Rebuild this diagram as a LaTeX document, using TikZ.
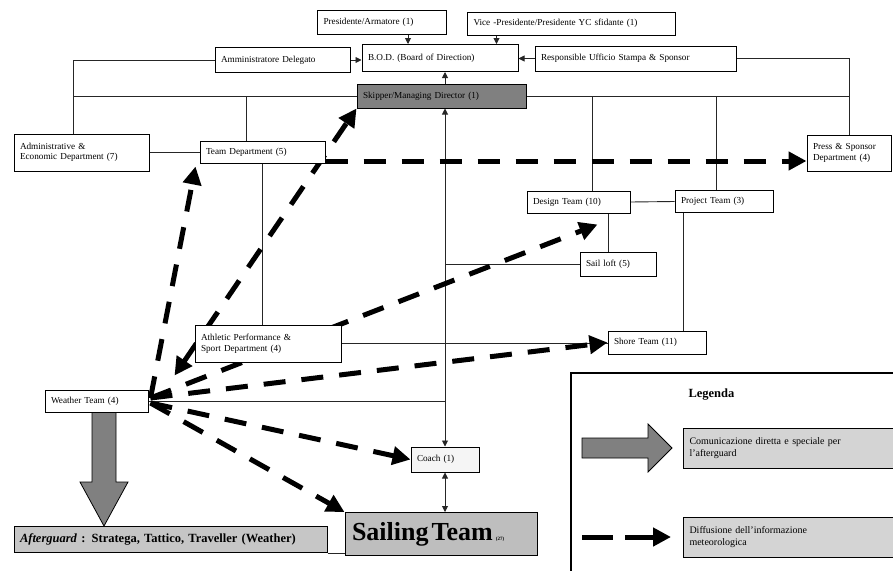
\documentclass[tikz,border=0pt]{standalone}
\usepackage{fontspec}
\setmainfont{Liberation Serif}
\usetikzlibrary{calc,arrows.meta,backgrounds}

\definecolor{skipfill}{HTML}{808080}
\definecolor{sailfill}{HTML}{BEBEBE}
\definecolor{aftfill}{HTML}{C6C6C6}
\definecolor{legfill}{HTML}{D4D4D4}
\definecolor{coachfill}{HTML}{F5F5F5}

\begin{document}
\begin{tikzpicture}[x=1pt,y=-1pt,
    unit/.style={draw,line width=1pt,fill=white,align=left,inner xsep=6pt,inner ysep=1pt,font=\fontsize{9.2}{10.5}\selectfont},
    link/.style={line width=0.9pt,draw=black!85,>={Triangle[length=6pt,width=6pt]}},
    flow/.style={line width=5pt,dash pattern=on 22pt off 16pt,>={Triangle[length=18pt,width=18pt]},->},
    bigarrow/.style={fill=skipfill,draw=black,line width=0.8pt}]
    \clip (0,0) rectangle (893,570);

    % board
    \node[unit,text width=117pt,minimum height=24pt] (pres) at (382,22) {Presidente/Armatore (1)};
    \node[unit,text width=196pt,minimum height=23pt] (vice) at (571.5,23.5) {Vice -Presidente/Presidente YC sfidante (1)};
    \node[unit,text width=123pt,minimum height=25pt] (ammin) at (282.5,60) {Amministratore Delegato};
    \node[unit,text width=144pt,minimum height=27pt] (bod) at (440,58) {B.O.D. (Board of Direction)};
    \node[unit,text width=189pt,minimum height=25pt] (resp) at (635.5,58.5) {Responsible Ufficio Stampa \& Sponsor};
    \node[unit,fill=skipfill,text width=157pt,minimum height=24pt] (skipper) at (441.5,96) {Skipper/Managing Director (1)};

    % departments
    \node[unit,text width=123pt,minimum height=37pt] (admin) at (81.5,152.5) {Administrative \&\\Economic Department (7)};
    \node[unit,text width=113pt,minimum height=22pt] (team) at (262.5,152) {Team Department (5)};
    \node[unit,text width=72pt,minimum height=36pt] (press) at (849,153) {Press \& Sponsor\\Department (4)};
    \node[unit,text width=91pt,minimum height=22pt] (design) at (578.5,202) {Design Team (10)};
    \node[unit,text width=86pt,minimum height=22pt] (project) at (724,201.5) {Project Team (3)};
    \node[unit,text width=64pt,minimum height=24pt] (loft) at (618,264) {Sail loft (5)};
    \node[unit,text width=86pt,minimum height=23pt] (shore) at (657,342.5) {Shore Team (11)};
    \node[unit,text width=134pt,minimum height=37pt] (athl) at (268,343.5) {Athletic Performance \&\\Sport Department (4)};
    \node[unit,text width=91pt,minimum height=22pt] (weather) at (96.5,401) {Weather Team (4)};
    \node[unit,fill=coachfill,text width=56pt,minimum height=25pt] (coach) at (445,459.5) {Coach (1)};
    \node[unit,fill=sailfill,text width=178pt,minimum height=43pt,inner xsep=7pt] (sailing) at (441,534) {\fontsize{26}{27}\selectfont\bfseries Sailing Team \fontsize{5}{6}\selectfont (27)};
    \node[unit,fill=aftfill,text width=301pt,minimum height=26pt,font=\fontsize{12.5}{14}\selectfont\bfseries] (afterg) at (170.5,539.5) {\textit{Afterguard} : Stratega, Tattico, Traveller (Weather)};

    \begin{scope}[on background layer]
    % plain links
    \coordinate (av) at ($(admin.north)+(-8,0)$);
    \draw[link] (ammin.west) -| (av);
    \draw[link] (skipper.west) -- (skipper.west -| av);
    \coordinate (tv) at ($(team.north)+(-16,0)$);
    \draw[link] (tv) -- (tv |- skipper.west);
    \draw[link] (resp.east) -| (press.north);
    \draw[link] (skipper.east) -- (skipper.east -| press.north);
    \coordinate (dv) at ($(design.north)+(14,0)$);
    \draw[link] (dv) -- (dv |- skipper.east);
    \coordinate (pv) at ($(project.north)+(-8,0)$);
    \draw[link] (pv) -- (pv |- skipper.east);
    \draw[link] (design.east) -- (project.west);
    \coordinate (lv) at ($(loft.north)+(-10,0)$);
    \draw[link] (lv) -- (lv |- design.south);
    \coordinate (sv) at ($(shore.north)+(26,0)$);
    \draw[link] (sv) -- (sv |- project.south);
    \draw[link] (loft.west) -- (loft.west -| coach.north);
    \draw[link] (admin.east) -- (admin.east -| team.west);
    \draw[link] (team.south) -- (team.south |- athl.north);
    \draw[link] (athl.east) -- (athl.east -| shore.west);
    \draw[link] (weather.east) -- (weather.east -| coach.north);
    \draw[link] (afterg.south east) -- (afterg.south east -| sailing.west);

    % arrows to the board
    \coordinate (pa) at ($(pres.south)+(26,0)$);
    \draw[link,->] (pa) -- (pa |- bod.north);
    \coordinate (va) at ($(vice.south)+(-75,0)$);
    \draw[link,->] (va) -- (va |- bod.north);
    \draw[link,->] (ammin.east) -- (ammin.east -| bod.west);
    \draw[link,->] (resp.west) -- (resp.west -| bod.east);
    \draw[link,->] (coach.north |- skipper.north) -- (coach.north |- bod.south);
    \draw[link,<->] (coach.north |- skipper.south) -- (coach.north);
    \draw[link,<->] (coach.south) -- (coach.south |- sailing.north);

    % weather information
    \coordinate (wx) at ($(weather.east)+(2,-3)$);
    \coordinate (wy) at ($(weather.east)+(2,2)$);
    \draw[flow] (wx) -- ($(team.south west)+(-4,3)$);
    \draw[flow,<->] ($(weather.north east)+(26,-14)$) -- (skipper.south west);
    \draw[flow] (wx) -- ($(design.south)+(19,11)$);
    \draw[flow] (wx) -- (shore.west);
    \draw[flow] (wy) -- (coach.west);
    \draw[flow] (wy) -- (sailing.north west);
    \draw[flow] ($(team.east)+(0,9)$) -- ($(press.west)+(0,8)$);
    \end{scope}

    % afterguard
    \coordinate (ba) at ($(weather.south)+(7.5,0)$);
    \coordinate (bb) at (ba |- afterg.north);
    \draw[bigarrow] (bb) -- ++(-24,-44) -- ++(12,0) |- (ba) -- ++(12,0) |- ($(bb)+(24,-44)$) -- cycle;

    % legend
    \draw[line width=2.5pt] (571,373) rectangle (905,585);
    \node[anchor=west,font=\fontsize{12.5}{14}\selectfont\bfseries] (legtitle) at (685,395) {Legenda};
    \node[unit,fill=legfill,anchor=west,text width=215pt,minimum height=40pt,font=\fontsize{10}{12}\selectfont] (leg1) at (683,448) {Comunicazione diretta e speciale per\\l'afterguard};
    \node[unit,fill=legfill,anchor=west,text width=215pt,minimum height=40pt,font=\fontsize{10}{12}\selectfont] (leg2) at (683,537) {Diffusione dell'informazione\\meteorologica};
    \coordinate (lt) at ($(leg1.west)+(-11,0)$);
    \draw[bigarrow] (lt) -- ++(-24,-24) -- ++(0,14) -- ++(-66,0) -- ++(0,20) -- ++(66,0) -- ++(0,14) -- cycle;
    \draw[flow,dash pattern=on 31pt off 12pt] ($(leg2.west)+(-101,0)$) -- ($(leg2.west)+(-12,0)$);
\end{tikzpicture}
\end{document}
